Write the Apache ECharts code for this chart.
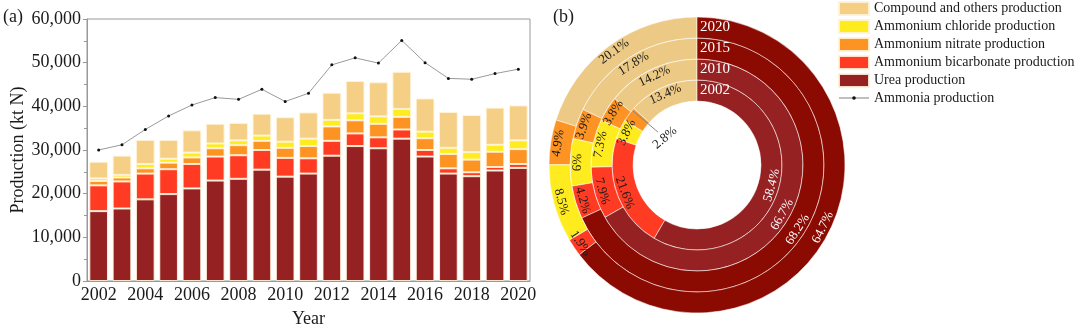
<!DOCTYPE html>
<html><head><meta charset="utf-8">
<script src="https://cdn.jsdelivr.net/npm/echarts@6/dist/echarts.min.js"></script>
<style>html,body{margin:0;padding:0;background:#fff}#c{width:1080px;height:333px}</style>
</head><body><div id="c"></div>
<script>
const years = ['2002','2003','2004','2005','2006','2007','2008','2009','2010','2011','2012','2013','2014','2015','2016','2017','2018','2019','2020'];
const urea        = [16000,16600,18700,19900,21200,23000,23400,25500,23900,24600,28700,30900,30400,32600,28500,24600,24000,25300,25900];
const bicarbonate = [5900,6200,5900,5700,5600,5500,5400,4500,4300,3500,3400,2900,2500,2100,1500,1200,900,800,900];
const nitrate     = [1000,900,1200,1500,1500,1900,2300,2100,2300,2800,3300,3000,3100,2900,2700,3300,2900,3500,3400];
const chloride    = [600,600,1000,900,1100,1100,1100,1200,1400,1700,1500,1600,1700,1800,1500,1400,1700,1600,2000];
const compound    = [3800,4400,5500,4300,5100,4500,4000,5000,5600,6000,6200,7400,7800,8500,7600,8200,8500,8500,8000];
const ammonia     = [30000,31200,34700,37800,40300,42000,41600,43900,41100,43000,49500,51100,49900,55100,50000,46400,46200,47500,48500];

// ring shares (%), order counter-clockwise from 12 o'clock: compound, nitrate, chloride, bicarbonate, urea
const ringYears = ['2002','2010','2015','2020'];
const ring2002 = [13.4, 2.8, 3.8, 21.6, 58.4];
const ring2010 = [14.2, 3.8, 7.3, 7.9, 66.7];
const ring2015 = [17.8, 3.9, 6.0, 4.2, 68.2];
const ring2020 = [20.1, 4.9, 8.5, 1.9, 64.7];

const names = ['Compound and others production','Ammonium chloride production','Ammonium nitrate production','Ammonium bicarbonate production','Urea production','Ammonia production'];
const C = {comp:'#F4CF85', chl:'#FFEC1F', nit:'#FC9323', bic:'#FF3B24', urea:'#952123', ringComp:'#ECCA85', ringUreaDark:'#8B0A02'};
const FONT = 'Liberation Serif';

const chart = echarts.init(document.getElementById('c'));
const barBorder = {borderColor:'rgba(255,243,215,0.9)', borderWidth:1};
function bar(name, data, color){
  return {name, type:'bar', stack:'p', data, barWidth:'80%', itemStyle:Object.assign({color}, barBorder), xAxisIndex:0, yAxisIndex:0};
}

const cx = 697, cy = 165, rIn = 64, rw = 21;
const rings = [ring2002, ring2010, ring2015, ring2020];
const pieSeries = rings.map((vals, i) => {
  const ureaCol = i < 2 ? C.urea : C.ringUreaDark;
  const cols = [C.ringComp, C.nit, C.chl, C.bic, ureaCol];
  return {
    type:'pie', center:[cx, cy], radius:[rIn + i*rw, rIn + (i+1)*rw],
    startAngle:90, clockwise:false, silent:true, animation:false,
    itemStyle:{borderColor:'rgba(255,255,255,0.55)', borderWidth:1},
    label:{show:true, position:'inside', rotate:'tangential', fontFamily:FONT, fontSize:13, color:'#1a1a1a',
      formatter: p => p.value + '%'},
    labelLine:{show:false},
    data: vals.map((v, k) => ({
      value:v, name:names[k],
      itemStyle:{color:cols[k]},
      label: (i===0 && k===1) ? {show:false} : (k===4 ? {color:'#fff'} : {})
    }))
  };
});

const graphics = [
  {type:'text', left:3, top:8, style:{text:'(a)', font:'18px '+FONT, fill:'#1a1a1a'}},
  {type:'text', left:553, top:8, style:{text:'(b)', font:'18px '+FONT, fill:'#1a1a1a'}}
];
ringYears.forEach((y, i) => {
  graphics.push({type:'text', x:cx+3, y:cy-(rIn+i*rw+rw/2), style:{text:y, font:'15px '+FONT, fill:'#fff', verticalAlign:'middle'}, z:100});
});
{
  const startPct = ring2002[0], midPct = startPct + ring2002[1]/2;
  const th = (midPct/100)*2*Math.PI - 0.06;
  const pt = r => [cx - r*Math.sin(th), cy - r*Math.cos(th)];
  const a = pt(rIn+rw-1), b = pt(51), t = pt(42);
  graphics.push({type:'line', shape:{x1:a[0], y1:a[1], x2:b[0], y2:b[1]}, style:{stroke:'#888', lineWidth:1}, z:100});
  graphics.push({type:'text', x:t[0], y:t[1], rotation:(Math.PI/2 - th), style:{text:ring2002[1]+'%', font:'13px '+FONT, fill:'#1a1a1a', align:'center', verticalAlign:'middle'}, z:100});
}

const lineIcon = 'image://data:image/svg+xml;utf8,' + encodeURIComponent(
  '<svg xmlns="http://www.w3.org/2000/svg" width="30" height="13"><line x1="0" y1="6.5" x2="30" y2="6.5" stroke="#aaa" stroke-width="1.5"/><circle cx="15" cy="6.5" r="1.8" fill="#111"/></svg>');

chart.setOption({
  animation:false,
  textStyle:{fontFamily:FONT},
  grid:{left:87, right:550, top:19, bottom:47, show:true, borderColor:'#999', borderWidth:1},
  legend:{orient:'vertical', left:838, top:1, padding:0, itemWidth:30, itemHeight:13, itemGap:3,
    textStyle:{fontFamily:FONT, fontSize:14, color:'#1a1a1a'},
    data:[
      {name:names[0], icon:'rect', itemStyle:{color:C.comp}},
      {name:names[1], icon:'rect', itemStyle:{color:C.chl}},
      {name:names[2], icon:'rect', itemStyle:{color:C.nit}},
      {name:names[3], icon:'rect', itemStyle:{color:C.bic}},
      {name:names[4], icon:'rect', itemStyle:{color:C.urea}},
      {name:names[5], icon:lineIcon}
    ]},
  xAxis:{type:'category', data:years, name:'Year', nameLocation:'middle', nameGap:29,
    nameTextStyle:{fontFamily:FONT, fontSize:18, color:'#1a1a1a'},
    axisLine:{lineStyle:{color:'#999'}},
    axisTick:{alignWithLabel:true, interval:0, length:4, lineStyle:{color:'#999'}},
    axisLabel:{interval:1, fontFamily:FONT, fontSize:18, color:'#1a1a1a', margin:5}},
  yAxis:{type:'value', min:0, max:60000, interval:10000, name:'Production (kt N)', nameLocation:'middle', nameGap:58,
    nameTextStyle:{fontFamily:FONT, fontSize:18, color:'#1a1a1a'},
    axisLine:{show:true, lineStyle:{color:'#999'}},
    axisTick:{show:true, length:4, lineStyle:{color:'#999'}},
    minorTick:{show:true, splitNumber:2, length:3, lineStyle:{color:'#999'}},
    splitLine:{show:false},
    axisLabel:{fontFamily:FONT, fontSize:18, color:'#1a1a1a', margin:6,
      formatter: v => v.toLocaleString('en-US')}},
  graphic: graphics,
  series:[
    bar(names[4], urea, C.urea),
    bar(names[3], bicarbonate, C.bic),
    bar(names[2], nitrate, C.nit),
    bar(names[1], chloride, C.chl),
    bar(names[0], compound, C.comp),
    {name:names[5], type:'line', data:ammonia, symbol:'circle', symbolSize:3, showSymbol:true,
      lineStyle:{color:'#999', width:1}, itemStyle:{color:'#111'}, z:10},
    ...pieSeries
  ]
});
</script></body></html>
